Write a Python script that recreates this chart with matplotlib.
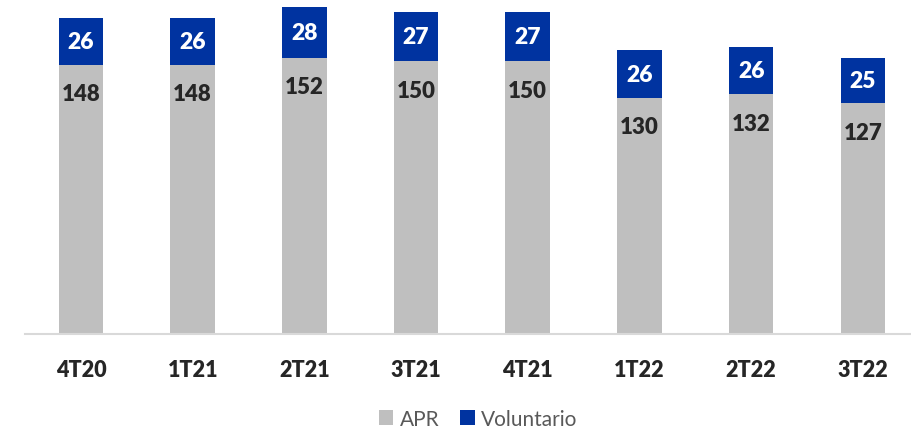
import matplotlib
matplotlib.use("Agg")
import matplotlib.pyplot as plt
import numpy as np

categories = ["4T20", "1T21", "2T21", "3T21", "4T21", "1T22", "2T22", "3T22"]
apr = [148, 148, 152, 150, 150, 130, 132, 127]
voluntario = [26, 26, 28, 27, 27, 26, 26, 25]

gray = "#BFBFBF"
blue = "#0033A0"
font = ["Lato", "DejaVu Sans"]
plt.rcParams["font.family"] = font

fig = plt.figure(figsize=(9.12, 4.35), dpi=100)
ax = fig.add_axes([25 / 912, 100 / 435, 887 / 912, 335 / 435])

x = np.arange(len(categories))
w = 0.40
b1 = ax.bar(x, apr, width=w, color=gray, label="APR", zorder=2)
b2 = ax.bar(x, voluntario, width=w, bottom=apr, color=blue, label="Voluntario", zorder=2)

ax.set_xlim(-0.501, 7.44)
ax.set_ylim(0, 184.3)

for xi, a, v in zip(x, apr, voluntario):
    ax.annotate(str(a), (xi, a), xytext=(0, -29), textcoords="offset pixels",
                ha="center", va="center", fontsize=16, fontweight="heavy", color="#262626")
    ax.text(xi, a + v / 2, str(v), ha="center", va="center", fontsize=16.5,
            fontweight="heavy", color="white")

for s in ["top", "right", "left"]:
    ax.spines[s].set_visible(False)
ax.spines["bottom"].set_color("#D9D9D9")
ax.spines["bottom"].set_linewidth(1.5)
ax.set_yticks([])
ax.set_xticks(x)
ax.set_xticklabels(categories, fontsize=15.5, fontweight="heavy", color="#262626")
ax.tick_params(axis="x", length=0, pad=18)

fig.legend(handles=[b1, b2], labels=["APR", "Voluntario"], loc="center",
           bbox_to_anchor=(478 / 912, 1 - 420 / 435), ncol=2, frameon=False,
           fontsize=15, handlelength=0.7, handleheight=0.7, handletextpad=0.3,
           columnspacing=1.0, labelcolor="#595959")

fig.savefig("out.png", dpi=100, facecolor="white")
